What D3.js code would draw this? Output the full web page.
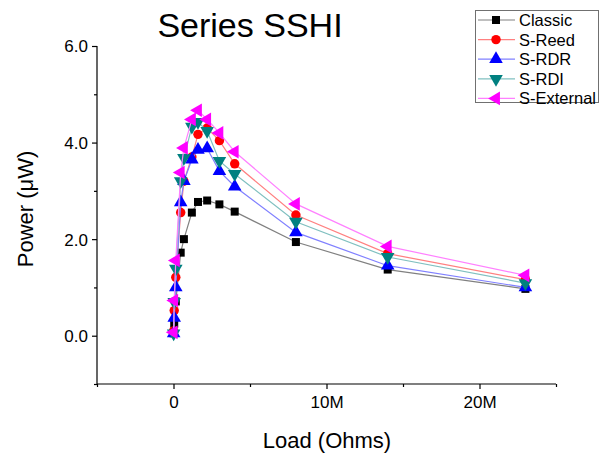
<!DOCTYPE html>
<html>
<head>
<meta charset="utf-8">
<script src="https://cdn.jsdelivr.net/npm/d3@7"></script>
<style>
  body { margin: 0; background: #fff; }
  text { font-family: "Liberation Sans", Arial, sans-serif; }
</style>
</head>
<body>
<div class="chartContainer"></div>
<script>
// load resistances (ohms)
var loads       = [1e4, 4.7e4, 1.5e5, 4.7e5, 6.8e5, 1.2e6, 1.6e6, 2.2e6, 3e6, 4e6, 8e6, 14e6, 23e6];
// power (uW) per harvesting circuit
var classic     = [0.05, 0.25, 0.71, 1.72, 2.0, 2.55, 2.77, 2.8, 2.72, 2.57, 1.94, 1.37, 0.97];
var sReed       = [0.1, 0.52, 1.21, 2.55, 3.2, 3.7, 4.17, 4.3, 4.04, 3.56, 2.5, 1.7, 1.16];
var sRDR        = [0.05, 0.37, 1.0, 2.76, 3.2, 3.65, 3.85, 3.88, 3.41, 3.09, 2.14, 1.45, 1.0];
var sRDI        = [0.05, 0.7, 1.39, 3.2, 3.68, 4.33, 4.43, 4.24, 3.62, 3.35, 2.36, 1.63, 1.09];
var sExternal   = [0.07, 0.73, 1.56, 3.38, 3.89, 4.48, 4.67, 4.48, 4.2, 3.81, 2.73, 1.85, 1.25];
var seriesNames = ["Classic", "S-Reed", "S-RDR", "S-RDI", "S-External"];
var yTicks      = [0, 2, 4, 6];
var xTicks      = [0, 10e6, 20e6];

var seriesValues = [classic, sReed, sRDR, sRDI, sExternal];
var markColor  = ["#000000", "#ff0000", "#0000ff", "#008080", "#ff00ff"];
var lineColor  = ["#808080", "#ff8080", "#8080ff", "#80c0c0", "#ff80ff"];
var shapes     = [d3.symbolSquare, d3.symbolCircle, d3.symbolTriangle, d3.symbolTriangle, d3.symbolTriangle];
var sizes      = [64, 70, 80, 80, 80];
var rotations  = [0, 0, 0, 180, -90];

var svg = d3.select(".chartContainer")
    .append("svg")
    .attr("width", 600)
    .attr("height", 457);

var x = d3.scaleLinear().domain([-5e6, 25e6]).range([97, 556]);
var y = d3.scaleLinear().domain([-1, 6]).range([384, 46]);

// y axis, major + minor ticks
var yAxis = d3.axisLeft(y)
    .tickValues(yTicks)
    .tickSize(5)
    .tickPadding(4)
    .tickFormat(d3.format(".1f"));
var gy = svg.append("g").attr("transform", "translate(97,0)").call(yAxis);
gy.select(".domain").attr("d", "M0," + y(6) + "V" + y(-1));
gy.selectAll(".tick text").attr("font-size", 17).attr("dy", "0.35em");
svg.append("g").attr("transform", "translate(97,0)")
    .call(d3.axisLeft(y).tickValues([-1, 1, 3, 5]).tickSize(3).tickFormat(""))
    .select(".domain").remove();

// x axis
var xAxis = d3.axisBottom(x)
    .tickValues(xTicks)
    .tickSize(5)
    .tickPadding(7)
    .tickFormat(function (d) { return d === 0 ? "0" : (d / 1e6) + "M"; });
var gx = svg.append("g").attr("transform", "translate(0,384)").call(xAxis);
gx.select(".domain").attr("d", "M" + x(-5e6) + ",0H" + x(25e6));
gx.selectAll(".tick text").attr("font-size", 17);
svg.append("g").attr("transform", "translate(0,384)")
    .call(d3.axisBottom(x).tickValues([-5e6, 5e6, 15e6, 25e6]).tickSize(3).tickFormat(""))
    .select(".domain").remove();

svg.selectAll(".domain, .tick line").attr("stroke", "#000").attr("stroke-width", 1.2);

// titles
svg.append("text")
    .attr("x", 250).attr("y", 37)
    .attr("text-anchor", "middle")
    .attr("font-size", 34)
    .text("Series SSHI");
svg.append("text")
    .attr("x", 327).attr("y", 448)
    .attr("text-anchor", "middle")
    .attr("font-size", 22)
    .text("Load (Ohms)");
svg.append("text")
    .attr("transform", "translate(33,209) rotate(-90)")
    .attr("text-anchor", "middle")
    .attr("font-size", 22)
    .text("Power (\u03bcW)");

var line = d3.line()
    .x(function (d) { return x(d[0]); })
    .y(function (d) { return y(d[1]); });

seriesValues.forEach(function (vals, i) {
    var pts = loads.map(function (l, j) { return [l, vals[j]]; });
    var g = svg.append("g");
    g.append("path")
        .attr("d", line(pts))
        .attr("fill", "none")
        .attr("stroke", lineColor[i])
        .attr("stroke-width", 1.2);
    g.selectAll(".mark")
        .data(pts)
        .enter()
            .append("path")
            .attr("class", "mark")
            .attr("d", d3.symbol().type(shapes[i]).size(sizes[i]))
            .attr("transform", function (d) {
                return "translate(" + x(d[0]) + "," + y(d[1]) + ") rotate(" + rotations[i] + ")";
            })
            .attr("fill", markColor[i]);
});

// legend
var legend = svg.append("g");
legend.append("rect")
    .attr("x", 475.5).attr("y", 10.5)
    .attr("width", 123).attr("height", 92)
    .attr("fill", "#fff")
    .attr("stroke", "#707070");
var item = legend.selectAll(".item")
    .data(seriesNames)
    .enter()
        .append("g")
        .attr("class", "item")
        .attr("transform", function (d, i) { return "translate(0," + (20 + i * 19.6) + ")"; });
item.append("line")
    .attr("x1", 478).attr("x2", 515)
    .attr("stroke", function (d, i) { return lineColor[i]; })
    .attr("stroke-width", 1.2);
item.append("path")
    .attr("d", function (d, i) { return d3.symbol().type(shapes[i]).size(sizes[i])(); })
    .attr("transform", function (d, i) { return "translate(496,0) rotate(" + rotations[i] + ")"; })
    .attr("fill", function (d, i) { return markColor[i]; });
item.append("text")
    .attr("x", 519)
    .attr("dy", "0.36em")
    .attr("font-size", 16.5)
    .text(function (d) { return d; });
</script>
</body>
</html>
